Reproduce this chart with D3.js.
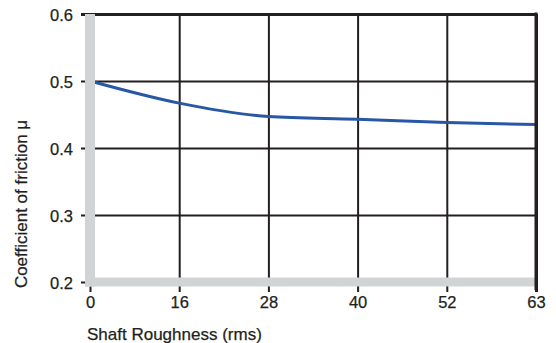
<!DOCTYPE html>
<html>
<head>
<meta charset="utf-8">
<script src="https://cdn.jsdelivr.net/npm/d3@7"></script>
<style>
  html, body { margin: 0; padding: 0; background: #fff; }
  svg { display: block; font-family: "Liberation Sans", Arial, Helvetica, sans-serif; }
</style>
</head>
<body>
<svg id="chart" width="556" height="343"></svg>
<script>
const categories = ["0", "16", "28", "40", "52", "63"];
const friction = [0.5, 0.467, 0.447, 0.443, 0.438, 0.435];
const yTicks = [0.2, 0.3, 0.4, 0.5, 0.6];
const xTitle = "Shaft Roughness (rms)";
const yTitle = "Coefficient of friction μ";

const ink = "#231f20", gray = "#d1d3d4", blue = "#2757a5";
const svg = d3.select("#chart");

const x = d3.scalePoint().domain(categories).range([90, 536]);
const y = d3.scaleLinear().domain([0.2, 0.6]).range([282, 14]);

// horizontal grid lines with left ticks
const yAxis = d3.axisLeft(y).tickValues(yTicks).tickFormat(d3.format(".1f"))
  .tickSize(-(536 - 90)).tickSizeOuter(0).tickPadding(17);
const gy = svg.append("g").attr("transform", "translate(90,0)").call(yAxis);
gy.select(".domain").remove();
gy.selectAll(".tick line").attr("x1", -9).attr("stroke", ink)
  .attr("stroke-width", d => d === 0.6 ? 3 : 2);
gy.selectAll(".tick text").attr("fill", ink).attr("font-size", 16.5)
  .attr("stroke", ink).attr("stroke-width", 0.25).attr("dy", "0.38em");

// vertical grid lines with bottom ticks
const xAxis = d3.axisBottom(x).tickSize(0).tickPadding(14.5);
const gx = svg.append("g").attr("transform", "translate(0,282)").call(xAxis);
gx.select(".domain").remove();
gx.selectAll(".tick line").attr("y1", 10).attr("y2", y(0.6) - 282)
  .attr("stroke", ink).attr("stroke-width", d => d === "63" ? 3 : 2);
gx.selectAll(".tick text").attr("fill", ink).attr("font-size", 16.5)
  .attr("stroke", ink).attr("stroke-width", 0.25);

// curve (under the gray axis bars)
const line = d3.line().x((d, i) => x(categories[i])).y(d => y(d)).curve(d3.curveMonotoneX);
svg.append("path").datum(friction).attr("d", line)
  .attr("fill", "none").attr("stroke", blue).attr("stroke-width", 3);

// gray axis bars
svg.append("rect").attr("x", x("0") - 5).attr("y", y(0.6)).attr("width", 10)
  .attr("height", y(0.2) + 4.5 - y(0.6)).attr("fill", gray);
svg.append("rect").attr("x", x("0") - 5).attr("y", y(0.2) - 4.5)
  .attr("width", x("63") - x("0") + 5).attr("height", 9).attr("fill", gray);

// right border line on top
svg.append("line").attr("x1", x("63")).attr("x2", x("63"))
  .attr("y1", y(0.6) - 1.5).attr("y2", 290).attr("stroke", ink).attr("stroke-width", 3);

// titles
svg.append("text").attr("x", 87).attr("y", 340).attr("fill", ink)
  .attr("stroke", ink).attr("stroke-width", 0.25)
  .attr("font-size", 17).text(xTitle);
svg.append("text").attr("transform", "translate(27,204) rotate(-90)")
  .attr("text-anchor", "middle").attr("fill", ink).attr("font-size", 17)
  .attr("stroke", ink).attr("stroke-width", 0.25).text(yTitle);
</script>
</body>
</html>
